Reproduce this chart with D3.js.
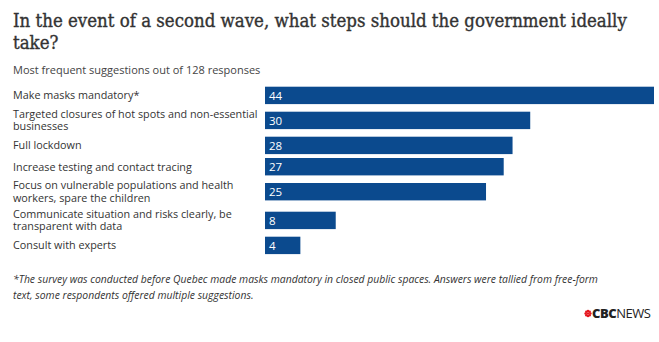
<!DOCTYPE html>
<html>
<head>
<meta charset="utf-8">
<script src="https://cdn.jsdelivr.net/npm/d3@7.9.0/dist/d3.min.js"></script>
<style>
  body { margin: 0; background: #fff; }
  svg { display: block; }
  text { font-family: "Open Sans", sans-serif; }
</style>
</head>
<body>
<svg id="chart" width="659" height="342"></svg>
<script>
const title = ["In the event of a second wave, what steps should the government ideally", "take?"];
const subtitle = "Most frequent suggestions out of 128 responses";
const suggestions = [
  "Make masks mandatory*",
  "Targeted closures of hot spots and non-essential businesses",
  "Full lockdown",
  "Increase testing and contact tracing",
  "Focus on vulnerable populations and health workers, spare the children",
  "Communicate situation and risks clearly, be transparent with data",
  "Consult with experts"
];
const counts = [44, 30, 28, 27, 25, 8, 4];
const footnote = [
  "*The survey was conducted before Quebec made masks mandatory in closed public spaces. Answers were tallied from free-form",
  "text, some respondents offered multiple suggestions."
];

const barColor = "#0b4a8e";
const svg = d3.select("#chart");

// title: shrink the font until the first line fits the chart width
let titleSize = 20;
const titleText = svg.append("text")
  .attr("fill", "#333")
  .attr("stroke", "#333")
  .attr("stroke-width", 0.35)
  .style("font-family", "'DejaVu Serif Condensed', 'DejaVu Serif', serif")
  .style("font-size", titleSize + "px");
titleText.selectAll("tspan")
  .data(title)
  .join("tspan")
  .attr("x", 13)
  .attr("y", (d, i) => 27 + i * 22)
  .text(d => d);
const w0 = titleText.select("tspan").node().getComputedTextLength();
if (w0 > 614) {
  titleSize = titleSize * 614 / w0;
  titleText.style("font-size", titleSize + "px");
}

svg.append("text")
  .attr("x", 13)
  .attr("y", 74)
  .attr("fill", "#444")
  .style("font-size", "11px")
  .text(subtitle);

// labels wrap into lines no wider than the label column
const labelWidth = 256;
const labelSize = "10.8px";
const measure = svg.append("text").style("font-size", labelSize).attr("visibility", "hidden");
function wrap(str) {
  const words = str.split(" ");
  const lines = [];
  let line = "";
  words.forEach(w => {
    const test = line ? line + " " + w : w;
    measure.text(test);
    if (line && measure.node().getComputedTextLength() > labelWidth) {
      lines.push(line);
      line = w;
    } else {
      line = test;
    }
  });
  lines.push(line);
  return lines;
}
const rows = suggestions.map((s, i) => ({ label: s, lines: wrap(s), value: counts[i] }));
measure.remove();

// vertical layout: each row is as tall as its bar or its label, whichever is more
const barH = 17.4, lineH = 12.4, gap = 3.9;
let yPos = 86.7;
rows.forEach(r => {
  r.h = Math.max(barH, r.lines.length * lineH);
  r.y = yPos;
  r.mid = yPos + r.h / 2;
  yPos += r.h + gap;
});

const x = d3.scaleLinear()
  .domain([0, d3.max(counts)])
  .range([265, 654]);

const row = svg.append("g").selectAll("g")
  .data(rows)
  .join("g");

row.append("rect")
  .attr("x", x(0))
  .attr("y", d => d.mid - barH / 2)
  .attr("width", d => x(d.value) - x(0))
  .attr("height", barH)
  .attr("fill", barColor);

row.append("text")
  .attr("x", x(0) + 4)
  .attr("y", d => d.mid)
  .attr("dy", "0.36em")
  .attr("fill", "#fff")
  .style("font-size", "11.5px")
  .text(d => d.value);

row.append("text")
  .attr("fill", "#333")
  .style("font-size", labelSize)
  .selectAll("tspan")
  .data(d => d.lines.map((l, i) => ({ l, y: d.mid + (i - (d.lines.length - 1) / 2) * lineH })))
  .join("tspan")
  .attr("x", 13)
  .attr("y", d => d.y)
  .attr("dy", "0.36em")
  .text(d => d.l);

// footnote
svg.append("text")
  .attr("fill", "#333")
  .style("font-size", "10.4px")
  .style("font-style", "italic")
  .selectAll("tspan")
  .data(footnote)
  .join("tspan")
  .attr("x", 13)
  .attr("y", (d, i) => 283 + i * 15.5)
  .text(d => d);

// CBC News wordmark
const logo = svg.append("g").attr("transform", "translate(588,313.5)");
d3.range(8).forEach(k => {
  const a = k * Math.PI / 4;
  logo.append("circle")
    .attr("cx", Math.cos(a) * 2.4)
    .attr("cy", Math.sin(a) * 2.4)
    .attr("r", 1.25)
    .attr("fill", "#e5171f");
});
logo.append("circle").attr("r", 1.2).attr("fill", "#e5171f");
const mark = logo.append("text")
  .attr("x", 4)
  .attr("y", 0)
  .attr("dy", "0.36em")
  .attr("fill", "#222")
  .style("font-size", "13px")
  .style("letter-spacing", "-0.5px");
mark.append("tspan").style("font-weight", 800).text("CBC");
mark.append("tspan").style("font-weight", 400).text("NEWS");
</script>
</body>
</html>
